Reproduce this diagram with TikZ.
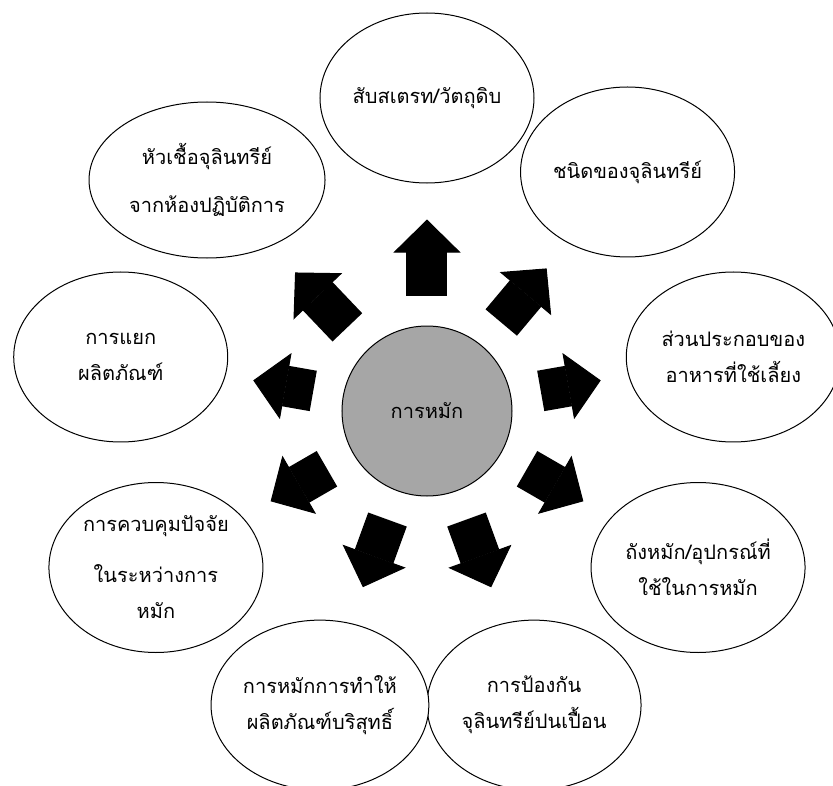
\documentclass[tikz,border=0pt]{standalone}
\usepackage{fontspec}
\newfontfamily\thaifont[Script=Thai]{Loma}
\usepackage{tikz}
\usetikzlibrary{shapes.geometric, arrows.meta}
\definecolor{hubgray}{HTML}{A6A6A6}

\begin{document}
\begin{tikzpicture}[
        x=1pt, y=1pt,
        font=\thaifont\fontsize{20}{36}\selectfont,
        hub/.style={circle, draw=black, line width=1pt, fill=hubgray, minimum size=170pt, inner sep=0pt, align=center},
        topic/.style={ellipse, draw=black, line width=1pt, fill=white, minimum width=214pt, minimum height=170pt, inner sep=0pt, align=center},
        blockarrow/.style={-{Triangle[length=33pt, width=67pt, line width=1pt]}, line width=41pt, black, shorten <=30pt}
    ]

    \useasboundingbox (-427,-374) rectangle (406,411);

    % Centre
    \node[hub] (hub) {การหมัก};

    % Topics round the centre
    \node[topic] (substrate) at (90:313) {สับสเตรท/วัตถุดิบ};
    \node[topic] (species) at (50:312) {ชนิดของจุลินทรีย์};
    \node[topic] (medium) at (10:311) {ส่วนประกอบของ\\อาหารที่ใช้เลี้ยง};
    \node[topic] (vessel) at (-30:313) {ถังหมัก/อุปกรณ์ที่\\ใช้ในการหมัก};
    \node[topic] (contam) at (-70:313) {การป้องกัน\\จุลินทรีย์ปนเปื้อน};
    \node[topic] (purify) at (-110:313) {การหมักการทำให้\\ผลิตภัณฑ์บริสุทธิ์};
    \node[topic] (control) at (-150:313) {การควบคุมปัจจัย\\[15pt]ในระหว่างการ\\หมัก};
    \node[topic] (separate) at (170:311) {การแยก\\ผลิตภัณฑ์};
    \node[topic, minimum width=236pt, minimum height=156pt] (starter) at (133.6:319) {หัวเชื้อจุลินทรีย์\\[12pt]จากห้องปฏิบัติการ};

    % Block arrows out of the centre
    \draw[blockarrow, shorten >=36pt] (hub) -- (substrate);
    \draw[blockarrow, shorten >=33pt] (hub) -- (species);
    \draw[blockarrow, shorten >=28pt] (hub) -- (medium);
    \draw[blockarrow, shorten >=32pt] (hub) -- (vessel);
    \draw[blockarrow, shorten >=38pt] (hub) -- (contam);
    \draw[blockarrow, shorten >=38pt] (hub) -- (purify);
    \draw[blockarrow, shorten >=32pt] (hub) -- (control);
    \draw[blockarrow, shorten >=28pt] (hub) -- (separate);
    \draw[blockarrow, shorten >=36pt] (hub) -- (starter);

\end{tikzpicture}
\end{document}
